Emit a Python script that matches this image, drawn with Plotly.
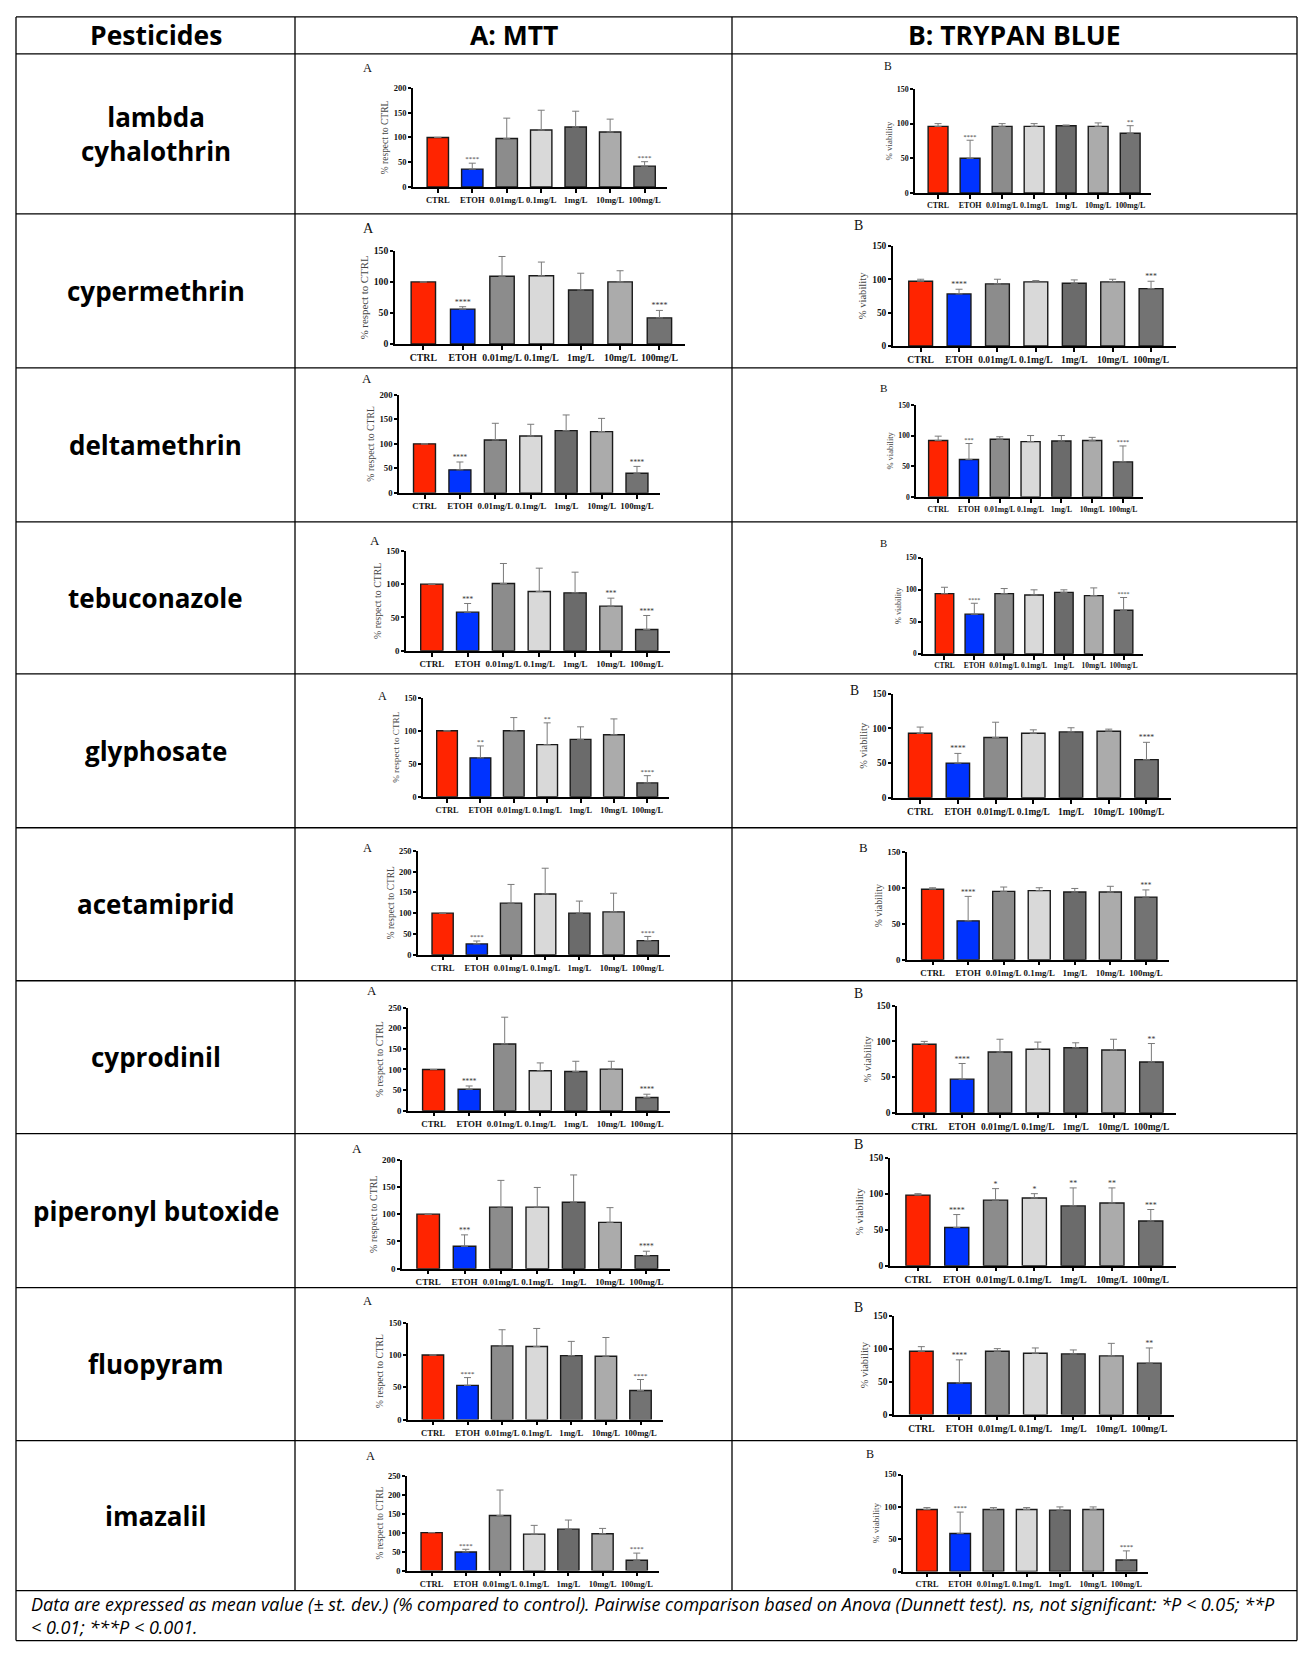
import plotly.graph_objects as go

W, H = 1311, 1654
OFF = 8                       # page body margin of the browser
FIG_W, FIG_H = W - 2 * OFF, H - 2 * OFF

# ---- data -------------------------------------------------------------
PESTICIDES = ["lambda<br>cyhalothrin", "cypermethrin", "deltamethrin", "tebuconazole",
              "glyphosate", "acetamiprid", "cyprodinil", "piperonyl butoxide",
              "fluopyram", "imazalil"]
DOSES = ["CTRL", "ETOH", "0.01mg/L", "0.1mg/L", "1mg/L", "10mg/L", "100mg/L"]

# A: MTT (% respect to CTRL)
MTT_MEAN = [
    [100, 36, 98, 115, 121, 111, 42],
    [100, 56, 109, 110, 87, 100, 42],
    [100, 47, 108, 116, 127, 125, 40],
    [100, 58, 101, 89, 87, 67, 32],
    [100, 59, 100, 79, 87, 94, 21],
    [100, 26, 124, 146, 100, 103, 34],
    [100, 52, 162, 97, 95, 101, 32],
    [100, 41, 113, 113, 122, 85, 24],
    [100, 53, 114, 113, 99, 98, 45],
    [100, 49, 145, 96, 109, 97, 27],
]
MTT_SD = [
    [0, 12, 41, 40, 32, 26, 9],
    [0, 4, 32, 22, 27, 18, 12],
    [0, 16, 34, 24, 32, 27, 14],
    [0, 13, 30, 35, 31, 12, 21],
    [0, 18, 20, 33, 19, 24, 11],
    [0, 7, 45, 62, 29, 45, 10],
    [0, 8, 65, 19, 25, 19, 8],
    [0, 21, 49, 36, 50, 27, 8],
    [0, 12, 25, 28, 22, 29, 17],
    [0, 7, 67, 23, 24, 14, 19],
]
MTT_SIG = [
    ["", "****", "", "", "", "", "****"],
    ["", "****", "", "", "", "", "****"],
    ["", "****", "", "", "", "", "****"],
    ["", "***", "", "", "", "***", "****"],
    ["", "**", "", "**", "", "", "****"],
    ["", "****", "", "", "", "", "****"],
    ["", "****", "", "", "", "", "****"],
    ["", "***", "", "", "", "", "****"],
    ["", "****", "", "", "", "", "****"],
    ["", "****", "", "", "", "", "****"],
]
MTT_YMAX = [200, 150, 200, 150, 150, 250, 250, 200, 150, 250]

# B: Trypan blue (% viability)
TB_MEAN = [
    [96, 50, 96, 96, 97, 96, 86],
    [97, 78, 93, 96, 94, 96, 86],
    [92, 61, 94, 90, 91, 92, 57],
    [94, 62, 94, 92, 96, 91, 68],
    [93, 50, 87, 93, 95, 96, 55],
    [98, 54, 95, 96, 94, 94, 87],
    [96, 47, 85, 89, 91, 88, 71],
    [98, 53, 91, 94, 83, 87, 62],
    [96, 48, 96, 93, 92, 89, 78],
    [96, 59, 96, 96, 95, 96, 18],
]
TB_SD = [
    [4, 26, 4, 4, 1, 5, 11],
    [3, 7, 7, 2, 5, 4, 11],
    [7, 26, 4, 10, 9, 5, 26],
    [10, 17, 8, 8, 4, 12, 20],
    [9, 14, 22, 5, 6, 3, 25],
    [2, 34, 6, 4, 5, 8, 10],
    [4, 22, 18, 10, 7, 15, 26],
    [2, 18, 16, 6, 25, 21, 16],
    [7, 35, 4, 8, 6, 19, 23],
    [3, 33, 3, 3, 5, 4, 14],
]
TB_SIG = [
    ["", "****", "", "", "", "", "**"],
    ["", "****", "", "", "", "", "***"],
    ["", "***", "", "", "", "", "****"],
    ["", "****", "", "", "", "", "****"],
    ["", "****", "", "", "", "", "****"],
    ["", "****", "", "", "", "", "***"],
    ["", "****", "", "", "", "", "**"],
    ["", "****", "*", "*", "**", "**", "***"],
    ["", "****", "", "", "", "", "**"],
    ["", "****", "", "", "", "", "****"],
]
TB_YMAX = [150] * 10

BAR_COLORS = ["#FF2400", "#0033FF", "#8C8C8C", "#D9D9D9", "#6B6B6B", "#ABABAB", "#737373"]

# ---- layout in page pixels ----------------------------------------------
# (y-axis x, x-axis end, y of top tick, y of zero, panel letter x, panel letter y)
MTT_BOX = [
    (413, 667, 87, 186, 367, 67),
    (395, 685, 250, 343, 368, 227),
    (399, 660, 394, 492, 367, 378),
    (406, 670, 550, 650, 375, 540),
    (423, 669, 697, 796, 383, 695),
    (418, 670, 850, 954, 367, 847),
    (408, 670, 1007, 1110, 372, 990),
    (402, 670, 1159, 1268, 357, 1148),
    (408, 663, 1322, 1419, 367, 1300),
    (407, 659, 1475, 1570, 370, 1455),
]
TB_BOX = [
    (915, 1151, 88, 192, 888, 66),
    (893, 1176, 245, 345, 858, 225),
    (916, 1143, 404, 496, 883, 387),
    (923, 1143, 557, 653, 883, 542),
    (893, 1171, 693, 797, 854, 690),
    (907, 1169, 851, 959, 863, 847),
    (897, 1176, 1005, 1112, 858, 993),
    (890, 1176, 1157, 1265, 858, 1143),
    (894, 1174, 1315, 1414, 858, 1307),
    (903, 1148, 1474, 1571, 870, 1453),
]
ROW_EDGES = [16, 53, 213, 367, 521, 673, 827, 980, 1133, 1287, 1440, 1590, 1640]
COL_EDGES = [16, 295, 732, 1297]

SERIF = "Liberation Serif"
SANS = "Open Sans"
X_RANGE = [-0.72, 6.65]


def px(x):
    return (x - OFF) / FIG_W


def py(y):
    y = 786 + (y - 786) * 1.0065   # slight vertical stretch to match the page
    return 1 - (y - OFF) / FIG_H


fig = go.Figure()
axes = {}
shapes = []
annotations = []

n = 0
for r in range(len(PESTICIDES)):
    panels = [
        (MTT_MEAN[r], MTT_SD[r], MTT_SIG[r], MTT_YMAX[r], MTT_BOX[r], "A", "% respect to CTRL"),
        (TB_MEAN[r], TB_SD[r], TB_SIG[r], TB_YMAX[r], TB_BOX[r], "B", "% viability"),
    ]
    for means, sds, sigs, ymax, box, letter, ytitle in panels:
        n += 1
        xa = "x" if n == 1 else f"x{n}"
        ya = "y" if n == 1 else f"y{n}"
        x0, x1, ytop, y0, lx, ly = box
        # each pasted panel has its own scale; fonts follow the bar slot width
        sc = (x1 - x0) / (X_RANGE[1] - X_RANGE[0]) / 34.5

        fig.add_trace(go.Bar(
            x=DOSES, y=means, xaxis=xa, yaxis=ya, showlegend=False,
            marker=dict(color=BAR_COLORS, line=dict(color="#1a1a1a", width=1.4)),
            error_y=dict(type="data", array=sds, arrayminus=[0] * 7, symmetric=False,
                         color="#7a7a7a", thickness=1, width=3.5),
        ))
        tops = [m + s for m, s in zip(means, sds)]
        fig.add_trace(go.Scatter(
            x=DOSES, y=tops, mode="text", text=sigs, textposition="top center",
            textfont=dict(family=SERIF, size=7 * sc, color="#333"),
            xaxis=xa, yaxis=ya, showlegend=False, cliponaxis=False,
        ))

        axes["xaxis" if n == 1 else f"xaxis{n}"] = dict(
            domain=[px(x0), px(x1)], anchor=ya, range=X_RANGE,
            showline=True, linecolor="black", linewidth=1.5, mirror=False,
            ticks="outside", ticklen=4, tickwidth=1.5, tickcolor="black",
            tickfont=dict(family=SERIF, size=8.6 * sc, color="#111", weight="bold"),
            tickangle=0, showgrid=False, zeroline=False, fixedrange=True,
        )
        axes["yaxis" if n == 1 else f"yaxis{n}"] = dict(
            domain=[py(y0), py(ytop)], anchor=xa, range=[0, ymax],
            tick0=0, dtick=50, showline=True, linecolor="black", linewidth=1.5,
            ticks="outside", ticklen=3, tickwidth=1.5, tickcolor="black",
            tickfont=dict(family=SERIF, size=8.5 * sc, color="#111", weight="bold"),
            title=dict(text=ytitle, standoff=3, font=dict(family=SERIF, size=9.5 * sc, color="#444")),
            showgrid=False, zeroline=False, fixedrange=True,
        )
        annotations.append(dict(
            text=letter, x=px(lx), y=py(ly), xref="paper", yref="paper",
            xanchor="center", yanchor="middle",
            showarrow=False, font=dict(family=SERIF, size=12.5 * sc, color="#111"),
        ))

    # pesticide name in first column
    annotations.append(dict(
        text=f"<b>{PESTICIDES[r]}</b>", x=px((COL_EDGES[0] + COL_EDGES[1]) / 2),
        y=py((ROW_EDGES[r + 1] + ROW_EDGES[r + 2]) / 2), xref="paper", yref="paper",
        xanchor="center", yanchor="middle",
        showarrow=False, font=dict(family=SANS, size=26, color="black"), align="center",
    ))

# header row
for text, c in [("Pesticides", 0), ("A: MTT", 1), ("B: TRYPAN BLUE", 2)]:
    annotations.append(dict(
        text=f"<b>{text}</b>", x=px((COL_EDGES[c] + COL_EDGES[c + 1]) / 2),
        y=py((ROW_EDGES[0] + ROW_EDGES[1]) / 2), xref="paper", yref="paper",
        xanchor="center", yanchor="middle",
        showarrow=False, font=dict(family=SANS, size=26.5, color="black"),
    ))

# footnote
annotations.append(dict(
    text="<i>Data are expressed as mean value (± st. dev.) (% compared to control). Pairwise comparison "
         "based on Anova (Dunnett test). ns, not significant: *P &lt; 0.05; **P<br>&lt; 0.01; ***P &lt; 0.001.</i>",
    x=px(COL_EDGES[0] + 13), y=py((ROW_EDGES[-2] + ROW_EDGES[-1]) / 2), xref="paper", yref="paper",
    xanchor="left", yanchor="middle", align="left", showarrow=False,
    font=dict(family=SANS, size=18, color="black"),
))

# table grid
line = dict(color="black", width=1.3)
for y in ROW_EDGES:
    shapes.append(dict(type="line", xref="paper", yref="paper", x0=px(COL_EDGES[0]), x1=px(COL_EDGES[-1]),
                       y0=py(y), y1=py(y), line=line))
for x in (COL_EDGES[0], COL_EDGES[-1]):
    shapes.append(dict(type="line", xref="paper", yref="paper", x0=px(x), x1=px(x),
                       y0=py(ROW_EDGES[0]), y1=py(ROW_EDGES[-1]), line=line))
for x in COL_EDGES[1:-1]:
    shapes.append(dict(type="line", xref="paper", yref="paper", x0=px(x), x1=px(x),
                       y0=py(ROW_EDGES[0]), y1=py(ROW_EDGES[-2]), line=line))

fig.update_layout(
    width=FIG_W, height=FIG_H, margin=dict(l=0, r=0, t=0, b=0),
    paper_bgcolor="white", plot_bgcolor="white",
    bargap=0.38, showlegend=False,
    shapes=shapes, annotations=annotations,
    **axes,
)

fig.write_html("out.html")
